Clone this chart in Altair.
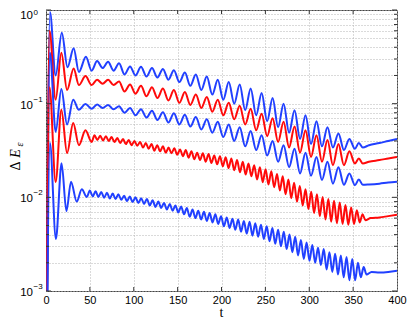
import altair as alt
import numpy as np
import pandas as pd

# ---------------- data ----------------
# curve 1 (top, blue)
b1_t_early = [0, 4.5, 11, 18, 24.5, 31.5, 37.5, 45.5]
b1_v_early = [1e-5, 0.95, 0.2, 0.57, 0.245, 0.39, 0.218, 0.317]
b1_t0, b1_dt = 52.0, 6.25
b1_osc = [0.225, 0.285, 0.24, 0.28, 0.225, 0.27, 0.205, 0.25, 0.2, 0.248,
          0.195, 0.24, 0.19, 0.235, 0.18, 0.228, 0.17, 0.215, 0.155, 0.205,
          0.14, 0.195, 0.125, 0.18, 0.11, 0.17, 0.1, 0.16, 0.085, 0.145,
          0.075, 0.13, 0.065, 0.115, 0.056, 0.1, 0.049, 0.085, 0.042, 0.075,
          0.037, 0.065, 0.035, 0.056, 0.034, 0.048, 0.032, 0.042, 0.033]
b1_t_tail = [356.5, 361, 368, 380, 390, 400]
b1_v_tail = [0.038, 0.034, 0.036, 0.038, 0.040, 0.042]

# curve 2 (red, upper)
r1_t_early = [0, 4, 11, 17.5, 24, 31.5, 37.5, 45]
r1_v_early = [1e-5, 0.6, 0.11, 0.35, 0.14, 0.238, 0.158, 0.197]
r1_t0, r1_dt = 52.0, 6.25
r1_osc = [0.158, 0.18, 0.163, 0.18, 0.158, 0.172, 0.135, 0.16, 0.128, 0.155,
          0.12, 0.15, 0.115, 0.145, 0.108, 0.14, 0.102, 0.133, 0.097, 0.125,
          0.09, 0.118, 0.082, 0.11, 0.075, 0.102, 0.068, 0.095, 0.06, 0.088,
          0.052, 0.078, 0.045, 0.07, 0.039, 0.064, 0.034, 0.057, 0.03, 0.052,
          0.027, 0.046, 0.024, 0.041, 0.022, 0.037, 0.022, 0.031, 0.023]
r1_t_tail = [356.5, 361, 368, 380, 390, 400]
r1_v_tail = [0.026, 0.023, 0.024, 0.025, 0.026, 0.027]

# curve 3 (blue, middle)
b2_t_early = [0, 4.5, 11, 17.5, 24, 31, 37.5, 45]
b2_v_early = [1e-5, 0.35, 0.05, 0.143, 0.06, 0.11, 0.086, 0.099]
b2_t0, b2_dt = 52.0, 6.25
b2_osc = [0.088, 0.098, 0.09, 0.097, 0.087, 0.094, 0.08, 0.09, 0.075, 0.087,
          0.071, 0.084, 0.067, 0.081, 0.063, 0.079, 0.06, 0.076, 0.057, 0.072,
          0.053, 0.068, 0.049, 0.064, 0.044, 0.06, 0.04, 0.056, 0.035, 0.051,
          0.032, 0.046, 0.028, 0.04, 0.024, 0.036, 0.021, 0.033, 0.018, 0.03,
          0.017, 0.027, 0.0153, 0.024, 0.014, 0.021, 0.0136, 0.018, 0.0135]
b2_t_tail = [356.5, 361, 368, 380, 390, 400]
b2_v_tail = [0.0155, 0.0136, 0.0137, 0.014, 0.0144, 0.0147]

# curve 4 (red, lower)
r2_t_early = [0, 4, 11, 17.5, 24, 31, 37.5, 45, 52]
r2_v_early = [1e-5, 0.15, 0.0146, 0.086, 0.0297, 0.062, 0.036, 0.052, 0.039]
r2_t0, r2_dt = 55.25, 3.25
r2_osc = [0.046, 0.041, 0.0455, 0.0405, 0.045, 0.040, 0.044, 0.039, 0.043, 0.038,
          0.042, 0.037, 0.041, 0.036, 0.040, 0.0355, 0.039, 0.034, 0.038, 0.033,
          0.037, 0.0315, 0.036, 0.031, 0.035, 0.030, 0.034, 0.0295, 0.0335, 0.0285,
          0.0325, 0.0275, 0.032, 0.0265, 0.031, 0.0255, 0.030, 0.025, 0.0295, 0.024,
          0.029, 0.0233, 0.028, 0.0225, 0.0275, 0.0215, 0.0268, 0.0205, 0.026, 0.0195,
          0.025, 0.0185, 0.024, 0.0175, 0.023, 0.0168, 0.022, 0.0155, 0.021, 0.0145,
          0.020, 0.0137, 0.019, 0.0128, 0.0178, 0.0118, 0.0168, 0.0108, 0.0155, 0.0098,
          0.0143, 0.009, 0.0132, 0.0082, 0.0122, 0.0075, 0.0115, 0.0068, 0.0108, 0.0063,
          0.0101, 0.0058, 0.0096, 0.0055, 0.0092, 0.0053, 0.0088, 0.0052, 0.0083, 0.0051,
          0.0078, 0.0052, 0.0073, 0.0054, 0.0066, 0.0057]
r2_t_tail = [370, 380, 390, 400]
r2_v_tail = [0.006, 0.0061, 0.0063, 0.0065]

# curve 5 (bottom, blue)
b3_t_early = [0, 4.5, 11.3, 17.7, 23.3, 28.5, 35, 40.8, 46.5]
b3_v_early = [1e-5, 0.038, 0.0036, 0.0231, 0.0071, 0.0147, 0.009, 0.0122, 0.0101]
b3_t0, b3_dt = 50.0, 3.25
b3_osc = [0.0118, 0.0102, 0.0116, 0.0101, 0.0114, 0.0099, 0.0112, 0.0097, 0.011, 0.0096,
          0.0108, 0.0094, 0.0104, 0.0091, 0.0102, 0.0089, 0.0100, 0.0087, 0.0098, 0.0085,
          0.0096, 0.0082, 0.0093, 0.0079, 0.0090, 0.0077, 0.0087, 0.0074, 0.0085, 0.0072,
          0.0082, 0.0069, 0.0080, 0.0066, 0.0077, 0.0062, 0.0074, 0.006, 0.0072, 0.0058,
          0.0070, 0.0056, 0.0068, 0.0054, 0.0066, 0.0052, 0.0063, 0.0049, 0.0061, 0.0047,
          0.0059, 0.0045, 0.0058, 0.0043, 0.0056, 0.0041, 0.0055, 0.0039, 0.0053, 0.0038,
          0.0051, 0.0036, 0.0049, 0.0034, 0.0047, 0.0032, 0.0045, 0.003, 0.0043, 0.0028,
          0.004, 0.0026, 0.0038, 0.0024, 0.0035, 0.0022, 0.0033, 0.0021, 0.0031, 0.002,
          0.0029, 0.0019, 0.0028, 0.0017, 0.0026, 0.0016, 0.0025, 0.0015, 0.0024, 0.0014,
          0.0023, 0.0013, 0.0022, 0.0013, 0.002, 0.0014, 0.0018, 0.0015]
b3_t_tail = [371, 380, 390, 400]
b3_v_tail = [0.0016, 0.00158, 0.0016, 0.00165]

series_names = ["c1", "c2", "c3", "c4", "c5"]
series_colors = ["#2140ff", "#ff0a0a", "#2140ff", "#ff0a0a", "#2140ff"]

x_ticks = [0, 50, 100, 150, 200, 250, 300, 350, 400]
y_major = [1e-3, 1e-2, 1e-1]
y_major_sup = ["\u22123", "\u22122", "\u22121"]
y_top = [1.0]
y_top_sup = ["0"]
y_minor = [m * 10.0 ** e for e in (-3, -2, -1) for m in range(2, 10)]

# ---------------- build table ----------------
def build(name, te, ve, t0, dt, osc, tt, vt):
    t_osc = [t0 + dt * i for i in range(len(osc))]
    return pd.DataFrame({"t": list(te) + t_osc + list(tt),
                         "v": list(ve) + list(osc) + list(vt),
                         "series": name})

df = pd.concat([
    build("c1", b1_t_early, b1_v_early, b1_t0, b1_dt, b1_osc, b1_t_tail, b1_v_tail),
    build("c2", r1_t_early, r1_v_early, r1_t0, r1_dt, r1_osc, r1_t_tail, r1_v_tail),
    build("c3", b2_t_early, b2_v_early, b2_t0, b2_dt, b2_osc, b2_t_tail, b2_v_tail),
    build("c4", r2_t_early, r2_v_early, r2_t0, r2_dt, r2_osc, r2_t_tail, r2_v_tail),
    build("c5", b3_t_early, b3_v_early, b3_t0, b3_dt, b3_osc, b3_t_tail, b3_v_tail),
], ignore_index=True)

W, H = 351, 281
PAD = {"left": 38, "top": 2, "right": 10, "bottom": 28}
xscale = alt.Scale(domain=[0, 400], nice=False)
yscale = alt.Scale(type="log", domain=[1e-3, 1], nice=False)

grid_col = "#b4b4b4"
xaxis = alt.Axis(values=x_ticks, grid=True, ticks=False, domain=False, title=None,
                 labelFont="Liberation Sans", labelFontSize=11, labelColor="#000",
                 labelPadding=3, labelFlush=False,
                 gridDash=[1, 2], gridColor=grid_col, gridWidth=1)
yaxis = alt.Axis(values=y_minor + y_major + y_top, grid=True, ticks=False, domain=False,
                 labels=False, title=None,
                 gridDash=[1, 2], gridColor=grid_col, gridWidth=1)

X = lambda: alt.X("t:Q", scale=xscale, axis=xaxis)
Y = lambda: alt.Y("v:Q", scale=yscale, axis=yaxis)

lines = alt.Chart(df).mark_line(clip=True, strokeWidth=2, interpolate="monotone").encode(
    x=X(), y=Y(),
    color=alt.Color("series:N", scale=alt.Scale(domain=series_names, range=series_colors),
                    legend=None),
)

minor_df = pd.DataFrame({"v": y_minor})
major_df = pd.DataFrame({"v": y_major + y_top})
xt_df = pd.DataFrame({"t": x_ticks[1:-1]})
tick_col = "#333333"

yl_minor = alt.Chart(minor_df).mark_rule(color=tick_col, strokeWidth=1).encode(
    y=Y(), x=alt.value(0), x2=alt.value(3))
yr_minor = alt.Chart(minor_df).mark_rule(color=tick_col, strokeWidth=1).encode(
    y=Y(), x=alt.value(W - 3), x2=alt.value(W))
yl_major = alt.Chart(major_df).mark_rule(color=tick_col, strokeWidth=1).encode(
    y=Y(), x=alt.value(0), x2=alt.value(5))
yr_major = alt.Chart(major_df).mark_rule(color=tick_col, strokeWidth=1).encode(
    y=Y(), x=alt.value(W - 5), x2=alt.value(W))
xb = alt.Chart(xt_df).mark_rule(color=tick_col, strokeWidth=1).encode(
    x=X(), y=alt.value(H - 4), y2=alt.value(H))
xtop = alt.Chart(xt_df).mark_rule(color=tick_col, strokeWidth=1).encode(
    x=X(), y=alt.value(0), y2=alt.value(4))

lab_df = pd.DataFrame({"v": y_major, "sup": y_major_sup})
top_df = pd.DataFrame({"v": y_top, "sup": y_top_sup})

def labels(data, dy10, dysup):
    a = alt.Chart(data).mark_text(align="right", baseline="middle", font="Liberation Sans",
                                  fontSize=11.5, color="#000", dy=dy10).encode(
        y=Y(), x=alt.value(-13), text=alt.value("10"))
    b = alt.Chart(data).mark_text(align="left", baseline="middle", font="Liberation Sans",
                                  fontSize=8, color="#000", dy=dysup).encode(
        y=Y(), x=alt.value(-12.5), text="sup:N")
    return a, b

la, lb = labels(lab_df, 2, -4)
ta, tb = labels(top_df, 6, 3)

one = pd.DataFrame({"a": [0]})
t_delta = alt.Chart(one).mark_text(text="\u0394", font="Liberation Serif", fontSize=14,
                                   angle=270, color="#000", align="center", baseline="middle").encode(
    x=alt.value(-30), y=alt.value(156))
t_E = alt.Chart(one).mark_text(text="E", font="Liberation Serif", fontSize=14, fontStyle="italic",
                               angle=270, color="#000", align="center", baseline="middle").encode(
    x=alt.value(-30), y=alt.value(143.5))
t_eps = alt.Chart(one).mark_text(text="\u03b5", font="Liberation Serif", fontSize=10, fontStyle="italic",
                                 angle=270, color="#000", align="center", baseline="middle").encode(
    x=alt.value(-26), y=alt.value(134.5))
t_x = alt.Chart(one).mark_text(text="t", font="Liberation Serif", fontSize=14,
                               color="#000", align="center", baseline="alphabetic").encode(
    x=alt.value(W / 2), y=alt.value(H + 26))

chart = alt.layer(lines, yl_minor, yr_minor, yl_major, yr_major, xb, xtop,
                  la, lb, ta, tb, t_delta, t_E, t_eps, t_x).properties(
    width=W, height=H,
    autosize=alt.AutoSizeParams(type="none"),
    padding=PAD,
).configure_view(stroke="#444444", strokeWidth=1)

chart.save("out.html", embed_options={"renderer": "svg", "actions": False})
